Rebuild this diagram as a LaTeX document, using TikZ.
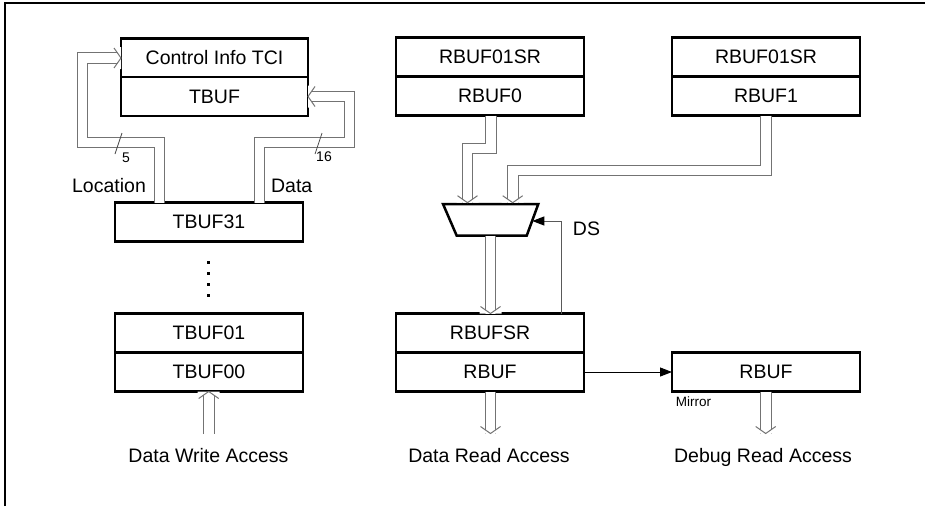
\documentclass[tikz,border=0pt]{standalone}
\usepackage{fontspec}
\setmainfont{Liberation Sans}
\usetikzlibrary{arrows.meta}
\begin{document}
\begin{tikzpicture}[x=1pt,y=-1pt,
  font=\fontsize{19.5}{23}\selectfont,
  box/.style={draw=black, line width=2.5pt, minimum width=188pt, minimum height=39pt, inner sep=0pt, outer sep=0pt, fill=white},
  dbl/.style={draw=black!55, line width=1pt, double=white, double distance=9.6pt},
  chev/.pic={
    \fill[white] (-7.5,-11) -- (0,0) -- (-7.5,11) -- (0,11) -- (0,-11) -- cycle;
    \draw[black!55, line width=1pt, line join=miter] (-7,-10) -- (0,0) -- (-7,10);
  },
  ctl/.style={draw=black!65, line width=1pt, -{Triangle[length=12pt,width=9pt,fill=black,color=black]}},
  lbl/.style={inner sep=0pt, anchor=base},
  small/.style={inner sep=0pt, anchor=base, font=\fontsize{14}{16}\selectfont},
  dotsq/.style={fill=black, inner sep=0pt, minimum size=3pt, draw=none}
]
\useasboundingbox (0,0) rectangle (925,506);
% frame
\draw[line width=2pt] (5,506) -- (5,3) -- (925,3);

% left column
\node[box, minimum width=187pt] (tci) at (214.5,58) {Control Info TCI};
\node[box, minimum width=187pt] (tbuf) at (214.5,96.5) {TBUF};
\node[box] (tbuf31) at (209,222) {TBUF31};
\node[box] (tbuf01) at (209,333) {TBUF01};
\node[box] (tbuf00) at (209,372) {TBUF00};

% middle and right columns
\node[box] (sr0) at (490,57) {RBUF01SR};
\node[box] (rb0) at (490,96) {RBUF0};
\node[box] (sr1) at (766,57) {RBUF01SR};
\node[box] (rb1) at (766,96) {RBUF1};
\node[box] (rbufsr) at (490,333) {RBUFSR};
\node[box] (rbuf) at (490,372) {RBUF};
\node[box] (mrbuf) at (766,372) {RBUF};

% multiplexer
\coordinate (mtl) at (443,204);
\coordinate (mtr) at (538.3,204);
\coordinate (mbr) at (526.7,235.7);
\coordinate (mbl) at (456.7,235.7);
\coordinate (min0) at (467.5,202.7);
\coordinate (min1) at (512.7,202.7);
\coordinate (mout) at (490.5,235.7);
\coordinate (mds) at (532.3,221);
\draw[line width=2.5pt, line join=miter] (mtl) -- (mtr) -- (mbr) -- (mbl) -- cycle;

% dots
\node[dotsq] (d1) at (208.5,262) {};
\node[dotsq] (d2) at (208.5,273) {};
\node[dotsq] (d3) at (208.5,284) {};
\node[dotsq] (d4) at (208.5,295) {};

% double connectors
\draw[dbl] (tbuf31.north -| 159.5,0) -- (159.5,142.5) -- (82.5,142.5) -- (82.5,58) -- (tci.west);
\pic[rotate=0] at (tci.west) {chev};
\draw[dbl] (tbuf31.north -| 259.5,0) -- (259.5,142.5) -- (349.5,142.5) -- (349.5,96.5) -- (tbuf.east);
\pic[rotate=180] at (tbuf.east) {chev};
\draw[dbl] (rb0.south -| 491,0) -- (491,148.3) -- (467.5,148.3) -- (min0);
\pic[rotate=-90] at (min0) {chev};
\draw[dbl] (rb1.south -| 765.7,0) -- (765.7,170.5) -- (512.7,170.5) -- (min1);
\pic[rotate=-90] at (min1) {chev};
\draw[dbl] (mout) -- (rbufsr.north -| mout);
\pic[rotate=-90] at (rbufsr.north -| mout) {chev};
\coordinate (wa) at (208.7,434);
\coordinate (ra) at (490.5,433.5);
\coordinate (da) at (765.7,433.5);
\draw[dbl] (wa) -- (tbuf00.south -| wa);
\pic[rotate=90] at (tbuf00.south -| wa) {chev};
\draw[dbl] (rbuf.south -| ra) -- (ra);
\pic[rotate=-90] at (ra) {chev};
\draw[dbl] (mrbuf.south -| da) -- (da);
\pic[rotate=-90] at (da) {chev};

% bus width slashes
\draw[black!70, line width=0.8pt] (115,154) -- (122,133);
\draw[black!70, line width=0.8pt] (315,154) -- (322,133);

% control arrows
\draw[ctl] (rbufsr.north -| 561.7,0) -- (561.7,221) -- (mds);
\draw[ctl, draw=black] (rbuf.east) -- (mrbuf.west);

% labels
\node[lbl] (loc) at (109,192.7) {Location};
\node[lbl] (dat) at (291.7,192.7) {Data};
\node[small] (n5) at (126,162.5) {5};
\node[small] (n16) at (324,161.7) {16};
\node[lbl] (ds) at (586.5,235) {DS};
\node[small, font=\fontsize{13.5}{15}\selectfont] (mir) at (693.5,406.7) {Mirror};
\node[lbl] (dwa) at (208.5,462) {Data Write Access};
\node[lbl] (dra) at (489,462) {Data Read Access};
\node[lbl] (dba) at (763,462) {Debug Read Access};
\end{tikzpicture}
\end{document}
